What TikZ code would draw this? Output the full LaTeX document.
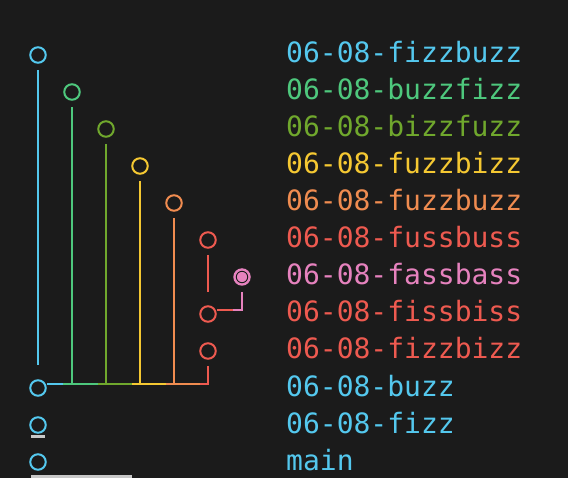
\documentclass[tikz,border=0pt]{standalone}
\definecolor{gitBg}{RGB}{27,27,27}
\definecolor{gitBlue}{RGB}{84,200,238}
\definecolor{gitGreen}{RGB}{78,200,125}
\definecolor{gitOlive}{RGB}{112,168,45}
\definecolor{gitYellow}{RGB}{245,200,50}
\definecolor{gitOrange}{RGB}{240,140,80}
\definecolor{gitRed}{RGB}{238,90,80}
\definecolor{gitPink}{RGB}{230,130,190}
\definecolor{gitBar}{RGB}{200,200,200}
\usepackage{fontspec}
\setmonofont{DejaVu Sans Mono}
\usetikzlibrary{calc}

\begin{document}
\begin{tikzpicture}[x=1pt, y=-1pt,
    commit/.style={circle, minimum size=15.5pt, inner sep=0pt, line width=2pt},
    head/.style={circle, minimum size=17.5pt, inner sep=0pt, fill=gitPink},
    branch/.style={anchor=base west, inner sep=0pt, font=\fontsize{28}{28}\ttfamily},
    edge/.style={line width=2pt}
  ]
  \fill[gitBg] (0,0) rectangle (568,478);
  \useasboundingbox (0,0) rectangle (568,478);

  \node[commit, draw=gitBlue]   (c1)  at ( 38, 55) {};
  \node[commit, draw=gitGreen]  (c2)  at ( 72, 92) {};
  \node[commit, draw=gitOlive]  (c3)  at (106,129) {};
  \node[commit, draw=gitYellow] (c4)  at (140,166) {};
  \node[commit, draw=gitOrange] (c5)  at (174,203) {};
  \node[commit, draw=gitRed]    (c6)  at (208,240) {};
  \node[head]                   (c7)  at (242,277) {};
  \node[commit, draw=gitRed]    (c8)  at (208,314) {};
  \node[commit, draw=gitRed]    (c9)  at (208,351) {};
  \node[commit, draw=gitBlue]   (c10) at ( 38,388) {};
  \node[commit, draw=gitBlue]   (c11) at ( 38,425) {};
  \node[commit, draw=gitBlue]   (c12) at ( 38,462) {};
  \draw[gitBg, line width=0.9pt] (c7.center) circle (5.7pt);

  \node[branch, text=gitBlue]   (t1)  at (286, 63) {06-08-fizzbuzz};
  \node[branch, text=gitGreen]  (t2)  at (286,100) {06-08-buzzfizz};
  \node[branch, text=gitOlive]  (t3)  at (286,137) {06-08-bizzfuzz};
  \node[branch, text=gitYellow] (t4)  at (286,174) {06-08-fuzzbizz};
  \node[branch, text=gitOrange] (t5)  at (286,211) {06-08-fuzzbuzz};
  \node[branch, text=gitRed]    (t6)  at (286,248) {06-08-fussbuss};
  \node[branch, text=gitPink]   (t7)  at (286,285) {06-08-fassbass};
  \node[branch, text=gitRed]    (t8)  at (286,322) {06-08-fissbiss};
  \node[branch, text=gitRed]    (t9)  at (286,359) {06-08-fizzbizz};
  \node[branch, text=gitBlue]   (t10) at (286,396) {06-08-buzz};
  \node[branch, text=gitBlue]   (t11) at (286,433) {06-08-fizz};
  \node[branch, text=gitBlue]   (t12) at (286,470) {main};

  % merge line into c10
  \coordinate (m) at ($(c10.center)+(0,-4)$);
  \draw[edge, gitBlue, shorten <=15pt, shorten >=23pt] (c1.center) -- (c10.center);
  \draw[edge, gitBlue] (c10.east |- m) -- ($(c2 |- m)+(-9,0)$);
  \draw[edge, gitGreen, shorten <=15pt] (c2.center) -- (c2 |- m) -- ($(c3 |- m)+(-8,0)$)
    -- ($(c2 |- m)+(-9,0)$);
  \draw[edge, gitOlive, shorten <=15pt] (c3.center) -- (c3 |- m) -- ($(c4 |- m)+(-8,0)$)
    -- ($(c3 |- m)+(-8,0)$);
  \draw[edge, gitYellow, shorten <=15pt] (c4.center) -- (c4 |- m) -- ($(c5 |- m)+(-8,0)$)
    -- ($(c4 |- m)+(-8,0)$);
  \draw[edge, gitOrange, shorten <=15pt] (c5.center) -- (c5 |- m) -- ($(c9 |- m)+(-8,0)$)
    -- ($(c5 |- m)+(-8,0)$);
  \draw[edge, gitRed, shorten <=15pt] (c9.center) -- (c9 |- m) -- ($(c9 |- m)+(-8,0)$);

  % fassbass into c8
  \coordinate (p) at ($(c8.center)+(0,-4)$);
  \draw[edge, gitRed, shorten <=15pt, shorten >=22pt] (c6.center) -- (c8.center);
  \draw[edge, gitPink, shorten <=15pt] (c7.center) -- (c7 |- p) -- ($(c7 |- p)+(-9,0)$);
  \draw[edge, gitRed] ($(c7 |- p)+(-9,0)$) -- (c8.east |- p);

  \fill[gitBar] ($(c11.south west)+(-1,4)$) rectangle ($(c11.south east)+(1,6.5)$);
  \fill[gitBar] ($(c12.south west)+(-1,7)$) rectangle (132,480);
\end{tikzpicture}
\end{document}
